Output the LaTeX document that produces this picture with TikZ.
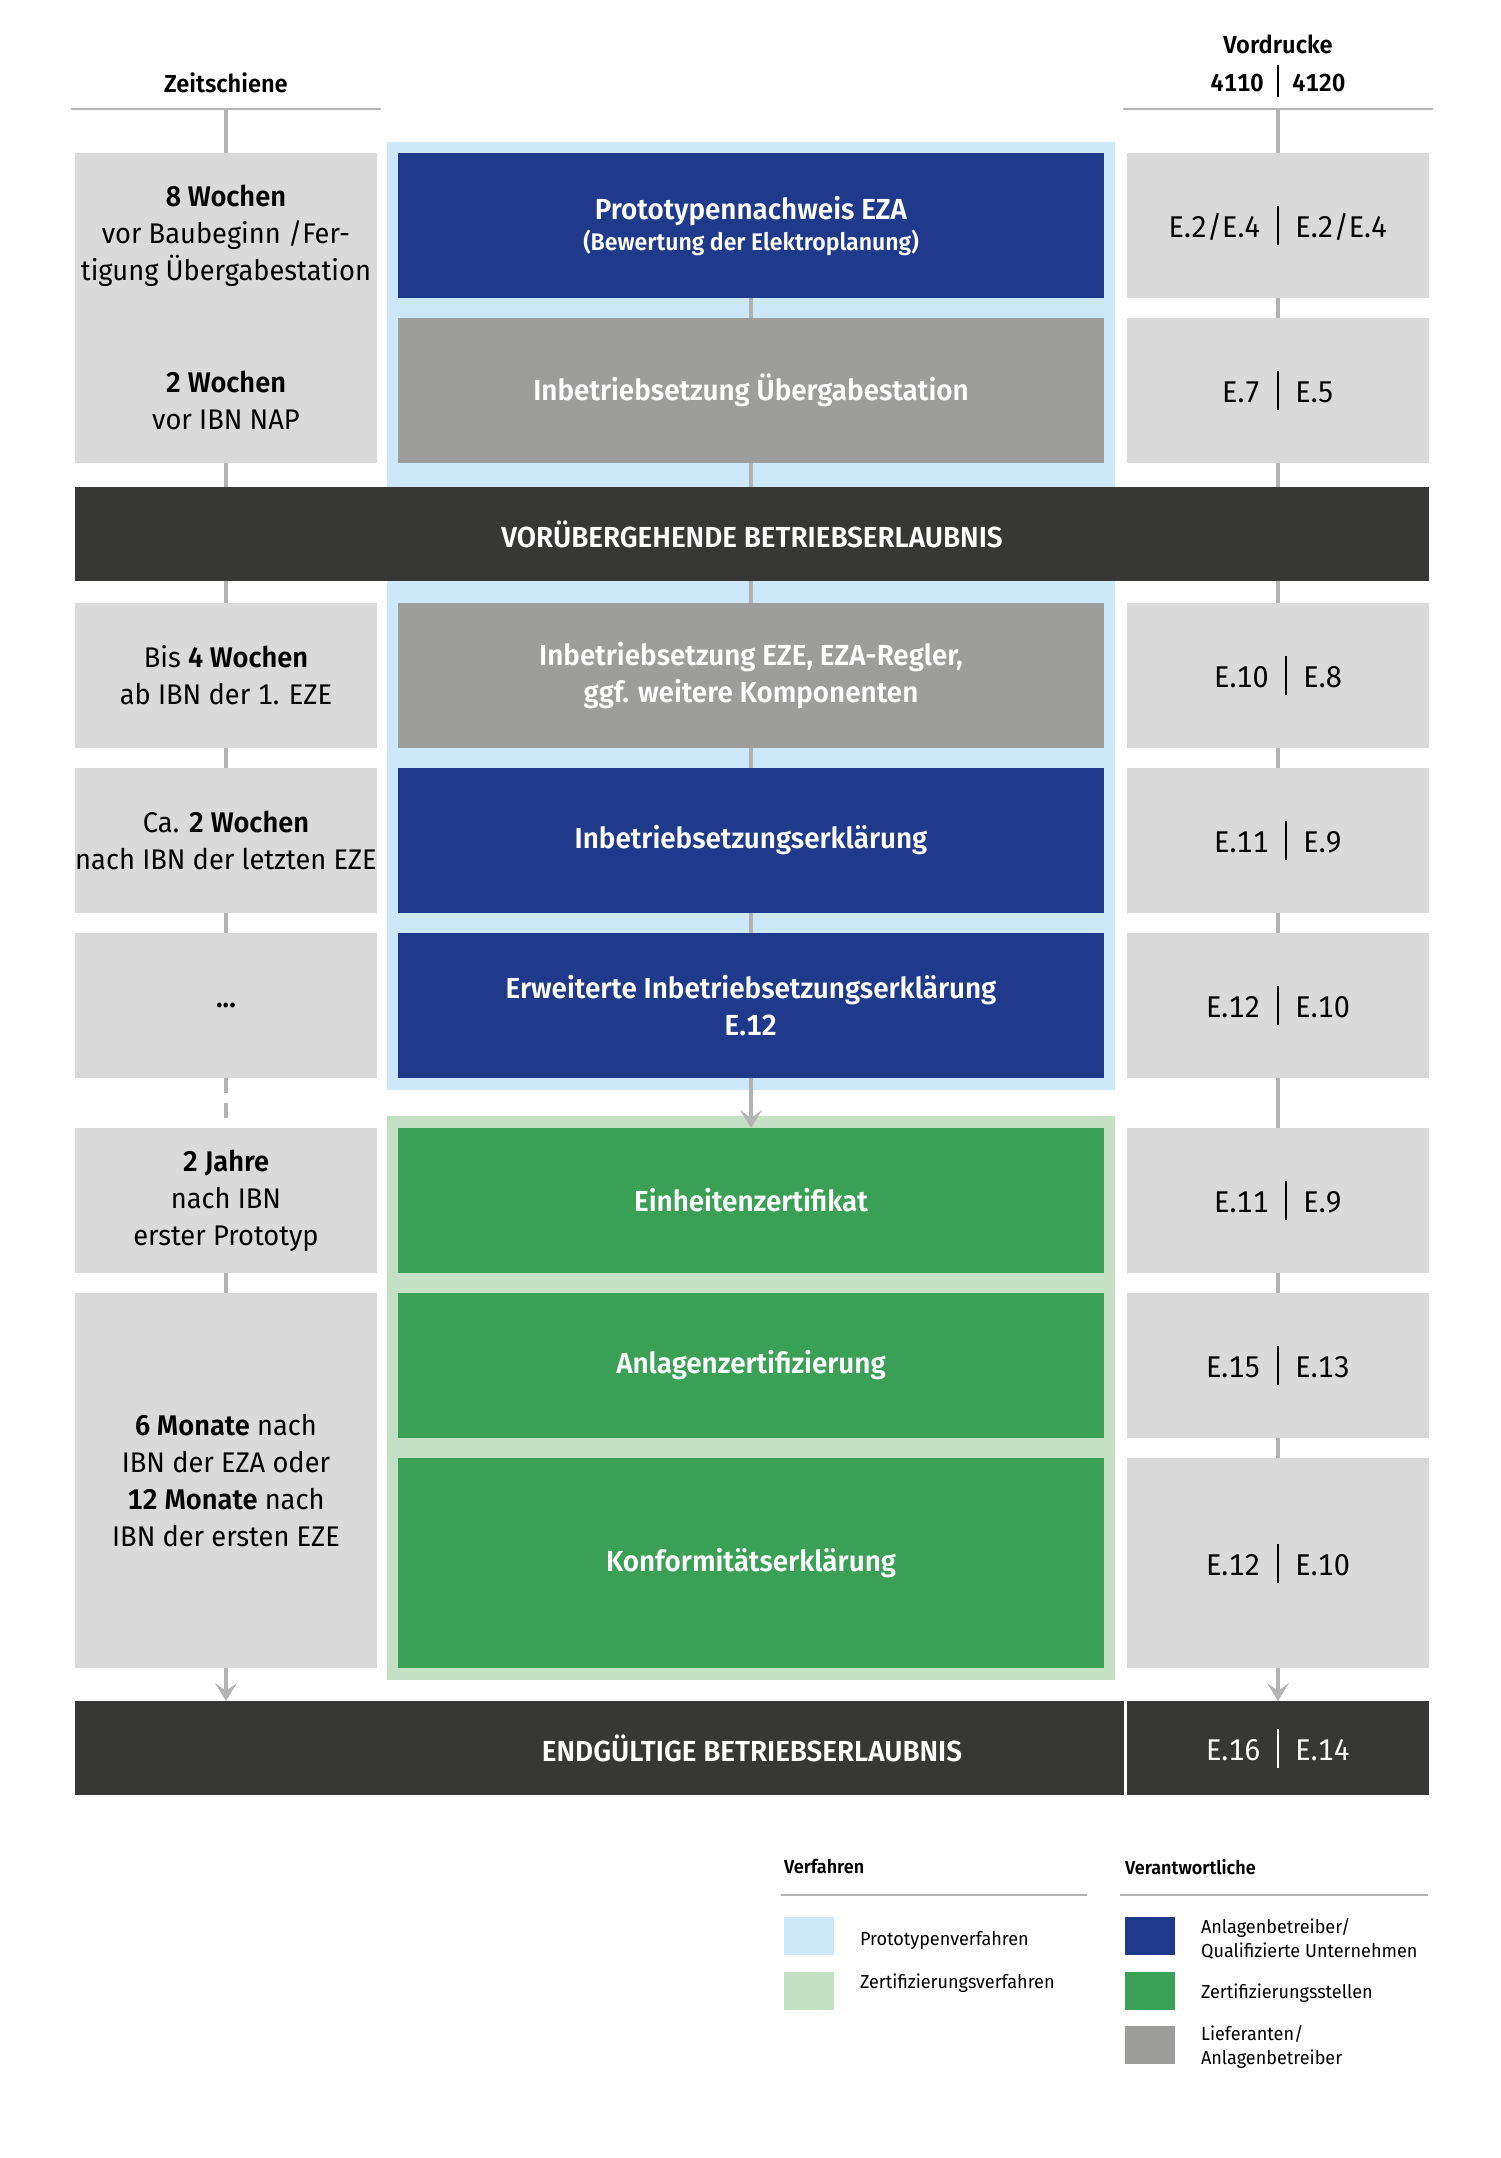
\documentclass[tikz,border=0pt]{standalone}
\usepackage{fontspec}
\setmainfont{Fira Sans}[FakeStretch=0.96, Numbers=Monospaced, BoldFont={Fira Sans SemiBold}]
\usetikzlibrary{arrows.meta}

\definecolor{hellgrau}{HTML}{DADADA}
\definecolor{mittelgrau}{HTML}{9D9D9C}
\definecolor{linie}{HTML}{B3B3B3}
\definecolor{dunkelblau}{HTML}{1F3A8B}
\definecolor{gruen}{HTML}{39A055}
\definecolor{hellblau}{HTML}{CDE8F9}
\definecolor{hellgruen}{HTML}{C4E0C5}
\definecolor{dunkel}{HTML}{373735}

\newcommand{\trenn}{\hspace{0.55em}\rule[-0.24em]{0.9pt}{1.3em}\hspace{0.55em}}

\tikzstyle{zeit} = [rectangle, fill=hellgrau, inner sep=0pt, outer sep=0pt,
    minimum width=151pt, minimum height=72.5pt, align=center,
    font=\fontsize{14.2}{18.5}\selectfont]
\tikzstyle{zeittext} = [align=center, font=\fontsize{14.2}{18.5}\selectfont]
\tikzstyle{block} = [rectangle, inner sep=0pt, outer sep=0pt, minimum width=353pt,
    minimum height=72.5pt, align=center, text=white,
    font=\bfseries\fontsize{14.5}{18.5}\selectfont]
\tikzstyle{vord} = [rectangle, fill=hellgrau, inner sep=0pt, outer sep=0pt,
    minimum width=151pt, minimum height=72.5pt, font=\fontsize{15}{18}\selectfont]
\tikzstyle{balken} = [rectangle, fill=dunkel, inner sep=0pt, outer sep=0pt,
    minimum height=47pt, text=white, font=\fontsize{15}{18}\selectfont]
\tikzstyle{line} = [draw=linie, line width=2pt]
\tikzstyle{pfeil} = [draw=linie, line width=2pt, -{Stealth[length=9pt, width=11pt, inset=4pt]}]
\tikzstyle{kopf} = [font=\bfseries\fontsize{12.3}{16}\selectfont]
\tikzstyle{kopflinie} = [draw=linie, line width=1.2pt]
\tikzstyle{legkopf} = [anchor=west, font=\bfseries\fontsize{9.4}{12}\selectfont]
\tikzstyle{legende} = [anchor=west, align=left, font=\fontsize{9.4}{12}\selectfont]
\tikzstyle{feld} = [rectangle, anchor=north west, inner sep=0pt, minimum width=25pt, minimum height=19pt]

\begin{document}
\begin{tikzpicture}[x=0.5pt, y=-0.5pt]
      \useasboundingbox (0,0) rectangle (1500,2158);

      % Kopfzeilen
      \node [kopf] (zs) at (226,83) {Zeitschiene};
      \node [kopf] (vd) at (1278,44) {Vordrucke};
      \node [kopf] (vn) at (1278,81) {4110\trenn 4120};
      \path [kopflinie] (71,109) -- (381,109);
      \path [kopflinie] (1123,109) -- (1433,109);
      \coordinate (zl) at (226,109);
      \coordinate (vl) at (1278,109);

      % Verfahren
      \fill [hellblau] (387,142) rectangle (1115,1090);
      \fill [hellgruen] (387,1116) rectangle (1115,1680);

      % Zeitschiene
      \node [zeit, minimum height=155pt] (a1) at (226,308) {};
      \node [zeittext] (a1o) at (226,236) {\textbf{8 Wochen}\\vor Baubeginn /Fer-\\tigung Übergabestation};
      \node [zeittext] (a1u) at (226,400) {\textbf{2 Wochen}\\vor IBN NAP};
      \node [zeit] (a3) at (226,675.5) {Bis \textbf{4 Wochen}\\ab IBN der 1. EZE};
      \node [zeit] (a4) at (226,840.5) {Ca. \textbf{2 Wochen}\\nach IBN der letzten EZE};
      \node [zeit] (a5) at (226,1005.5) {\textbf{...}};
      \node [zeit] (a6) at (226,1200.5) {\textbf{2 Jahre}\\nach IBN\\erster Prototyp};
      \node [zeit, minimum height=187.5pt] (a7) at (226,1480.5) {\textbf{6 Monate} nach\\IBN der EZA oder\\\textbf{12 Monate} nach\\IBN der ersten EZE};

      % Schritte
      \node [block, fill=dunkelblau] (b1) at (751,225.5) {Prototypennachweis EZA\\[-3pt]{\fontsize{12}{14}\selectfont (Bewertung der Elektroplanung)}};
      \node [block, fill=mittelgrau] (b2) at (751,390.5) {Inbetriebsetzung Übergabestation};
      \node [block, fill=mittelgrau] (b3) at (751,675.5) {Inbetriebsetzung EZE, EZA-Regler,\\ggf. weitere Komponenten};
      \node [block, fill=dunkelblau] (b4) at (751,840.5) {Inbetriebsetzungserklärung};
      \node [block, fill=dunkelblau] (b5) at (751,1005.5) {Erweiterte Inbetriebsetzungserklärung\\E.12};
      \node [block, fill=gruen] (g1) at (751,1200.5) {Einheitenzertifikat};
      \node [block, fill=gruen] (g2) at (751,1365.5) {Anlagenzertifizierung};
      \node [block, fill=gruen, minimum height=105pt] (g3) at (751,1563) {Konformitätserklärung};

      % Vordrucke
      \node [vord] (c1) at (1278,225.5) {E.2/E.4\trenn E.2/E.4};
      \node [vord] (c2) at (1278,390.5) {E.7\trenn E.5};
      \node [vord] (c3) at (1278,675.5) {E.10\trenn E.8};
      \node [vord] (c4) at (1278,840.5) {E.11\trenn E.9};
      \node [vord] (c5) at (1278,1005.5) {E.12\trenn E.10};
      \node [vord] (c6) at (1278,1200.5) {E.11\trenn E.9};
      \node [vord] (c7) at (1278,1365.5) {E.15\trenn E.13};
      \node [vord, minimum height=105pt] (c8) at (1278,1563) {E.12\trenn E.10};

      % Betriebserlaubnis
      \node [balken, minimum width=677pt, font=\bfseries\fontsize{14.5}{18}\selectfont] (vb) at (752,534) {VORÜBERGEHENDE BETRIEBSERLAUBNIS};
      \node [balken, minimum width=524.5pt] (eb) at (599.5,1748) {};
      \node [text=white, font=\bfseries\fontsize{14.5}{18}\selectfont] (et) at (752,1748) {ENDGÜLTIGE BETRIEBSERLAUBNIS};
      \node [balken, minimum width=151pt] (ev) at (1278,1748) {E.16\trenn E.14};

      % Linien links
      \path [line] (zl) -- (a1.north);
      \path [line] (a1.south) -- (a1.south |- vb.north);
      \path [line] (a3.north |- vb.south) -- (a3.north);
      \path [line] (a3) -- (a4);
      \path [line] (a4) -- (a5);
      \path [line, dash pattern=on 7.5pt off 5pt] (a5) -- (a6);
      \path [line] (a6) -- (a7);
      \path [pfeil] (a7) -- (a7.south |- eb.north);

      % Linien Mitte
      \path [line] (b1) -- (b2);
      \path [line] (b2.south) -- (b2.south |- vb.north);
      \path [line] (b3.north |- vb.south) -- (b3.north);
      \path [line] (b3) -- (b4);
      \path [line] (b4) -- (b5);
      \path [pfeil] (b5) -- (g1);

      % Linien rechts
      \path [line] (vl) -- (c1);
      \path [line] (c1) -- (c2);
      \path [line] (c2.south) -- (c2.south |- vb.north);
      \path [line] (c3.north |- vb.south) -- (c3.north);
      \path [line] (c3) -- (c4);
      \path [line] (c4) -- (c5);
      \path [line] (c5) -- (c6);
      \path [line] (c6) -- (c7);
      \path [line] (c7) -- (c8);
      \path [pfeil] (c8) -- (ev);

      % Legende
      \node [legkopf] (lv) at (777,1867) {Verfahren};
      \node [legkopf] (lr) at (1118,1867) {Verantwortliche};
      \path [kopflinie, line width=1pt] (781,1895) -- (1087,1895);
      \path [kopflinie, line width=1pt] (1120,1895) -- (1428,1895);
      \node [feld, fill=hellblau] (f1) at (784,1917) {};
      \node [legende] (l1) at (853,1940) {Prototypenverfahren};
      \node [feld, fill=hellgruen] (f2) at (784,1972) {};
      \node [legende] (l2) at (853,1983) {Zertifizierungsverfahren};
      \node [feld, fill=dunkelblau] (f3) at (1125,1917) {};
      \node [legende] (l3) at (1194,1939) {Anlagenbetreiber/\\Qualifizierte Unternehmen};
      \node [feld, fill=gruen] (f4) at (1125,1972) {};
      \node [legende] (l4) at (1194,1993) {Zertifizierungsstellen};
      \node [feld, fill=mittelgrau] (f5) at (1125,2026) {};
      \node [legende] (l5) at (1194,2047) {Lieferanten/\\Anlagenbetreiber};
  \end{tikzpicture}
\end{document}
